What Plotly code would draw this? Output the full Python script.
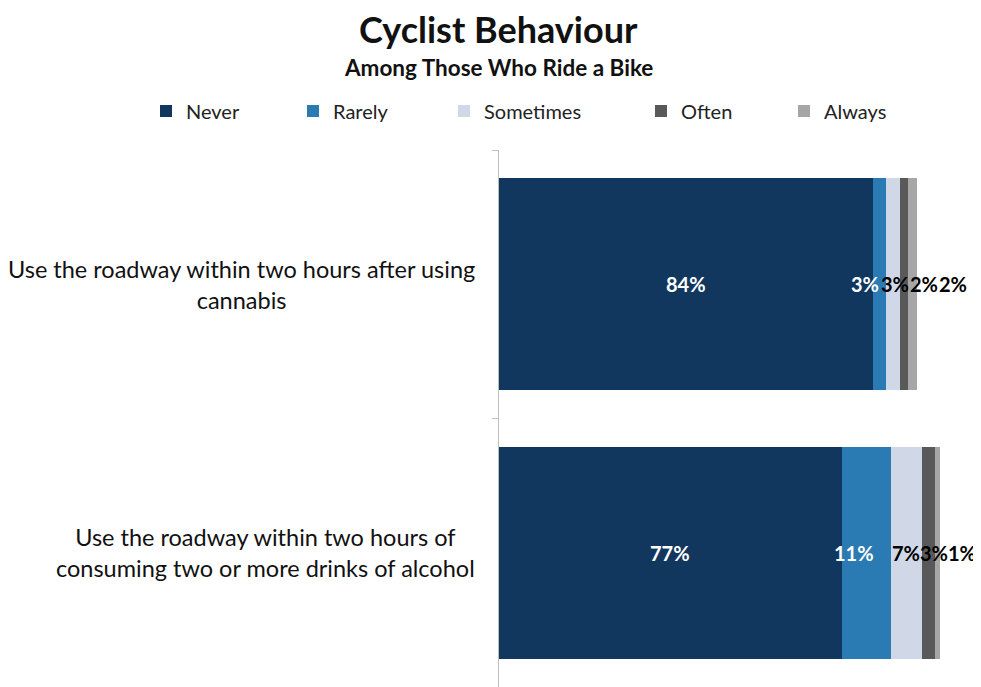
import plotly.graph_objects as go

categories = [
    "Use the roadway within two hours after using<br>cannabis",
    "Use the roadway within two hours of<br>consuming two or more drinks of alcohol",
]
series_names = ["Never", "Rarely", "Sometimes", "Often", "Always"]
never = [84, 77]
rarely = [3, 11]
sometimes = [3, 7]
often = [2, 3]
always = [2, 1]

series_values = [never, rarely, sometimes, often, always]
colors = ["#12375f", "#2a7ab3", "#d0d8e8", "#595959", "#a6a6a6"]
label_colors = ["white", "white", "black", "black", "black"]
# pixel shifts mimicking the de-overlapped labels of the original
label_shift = [
    [0, -14, 2, 20, 40],
    [0, -12, 0, 6, 25],
]
FONT = "Lato, Carlito, Calibri, sans-serif"

ycats = ["c0", "c1"]

# the page body has an 8px margin, so figure coords = screen coords - 8
OFF = 8
W, H = 981 - OFF, 687 - OFF
L, R, T, B = 499 - OFF, 944 - OFF, 150 - OFF, 0
PW, PH = R - L, H - T - B

fig = go.Figure()
legend_x_px = [162, 309, 460, 657, 800]
for i, (name, vals) in enumerate(zip(series_names, series_values)):
    lname = "legend" if i == 0 else f"legend{i+1}"
    fig.add_trace(go.Bar(
        name=name, y=ycats, x=vals, orientation="h",
        marker=dict(color=colors[i], line=dict(width=0)),
        legend=lname, hoverinfo="skip",
    ))

# data labels
for j in range(len(categories)):
    cum = 0
    for i, vals in enumerate(series_values):
        v = vals[j]
        mid = cum + v / 2
        cum += v
        fig.add_annotation(
            x=mid, y=ycats[j], xref="x", yref="y", text=f"<b>{v}%</b>",
            showarrow=False, xshift=label_shift[j][i],
            font=dict(family=FONT, size=20, color=label_colors[i]),
        )

# category labels
for j, c in enumerate(categories):
    fig.add_annotation(
        x=-22 / PW, y=ycats[j], xref="paper", yref="y", text=c,
        showarrow=False, xanchor="right", align="center",
        font=dict(family=FONT, size=23.5, color="#111111"),
    )

legend_layouts = {}
for i in range(5):
    key = "legend" if i == 0 else f"legend{i+1}"
    legend_layouts[key] = dict(
        x=(legend_x_px[i] - OFF - 16 - L) / PW, xanchor="left",
        y=1 + (T - (111 - OFF)) / PH, yanchor="middle",
        orientation="h", bgcolor="rgba(0,0,0,0)",
        font=dict(family=FONT, size=20, color="#222222"),
        itemwidth=30,
    )

fig.update_layout(
    width=W, height=H,
    margin=dict(l=L, r=W - R, t=T, b=B, autoexpand=False),
    paper_bgcolor="white", plot_bgcolor="white",
    barmode="stack", bargap=0.21,
    showlegend=True,
    xaxis=dict(range=[0, 100], visible=False, fixedrange=True),
    yaxis=dict(
        categoryorder="array", categoryarray=ycats, autorange="reversed",
        showticklabels=False, showline=True, linecolor="#bfbfbf", linewidth=1,
        ticks="outside", tickson="boundaries", ticklen=6, tickcolor="#bfbfbf",
        showgrid=False, zeroline=False,
    ),
    **legend_layouts,
)
fig.add_annotation(
    x=(498 - OFF - L) / PW, y=1 + (T - (29 - OFF)) / PH,
    xref="paper", yref="paper",
    text="<b>Cyclist Behaviour</b>", showarrow=False,
    xanchor="center", yanchor="middle",
    font=dict(family=FONT, size=36, color="#111111"),
)
fig.add_annotation(
    x=(498 - OFF - L) / PW, y=1 + (T - (67 - OFF)) / PH,
    xref="paper", yref="paper",
    text="<b>Among Those Who Ride a Bike</b>", showarrow=False,
    xanchor="center", yanchor="middle",
    font=dict(family=FONT, size=22.5, color="#111111"),
)

fig.write_html("out.html")
